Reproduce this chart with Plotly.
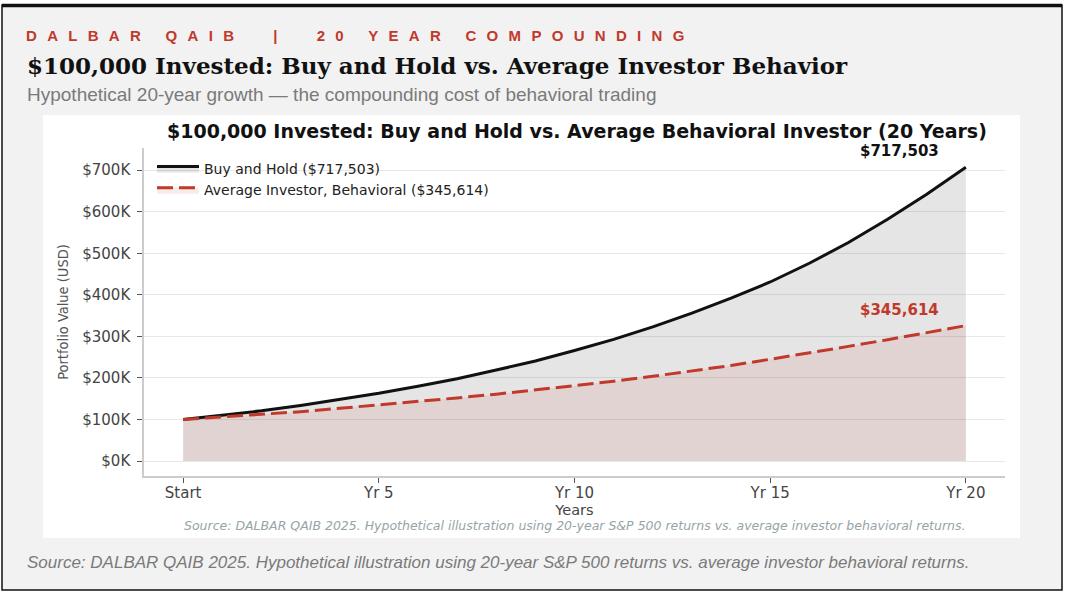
import plotly.graph_objects as go

# values (USD, one point per year)
years = list(range(0, 21))
buy_hold = [100000, 110000, 121000, 134000, 148000, 163000, 180000, 198000, 219000, 241000,
            266000, 293000, 323000, 356000, 392000, 431000, 476000, 526000, 582000, 642000, 707000]
behavioral = [100000, 106000, 113000, 119000, 127000, 135000, 143000, 152000, 161000, 171000,
              181000, 192000, 204000, 217000, 230000, 245000, 260000, 276000, 292000, 309000, 326000]

x_tickvals = [0, 5, 10, 15, 20]
x_ticktext = ["Start", "Yr 5", "Yr 10", "Yr 15", "Yr 20"]
y_tickvals = [0, 100000, 200000, 300000, 400000, 500000, 600000, 700000]
y_ticktext = ["$0K", "$100K", "$200K", "$300K", "$400K", "$500K", "$600K", "$700K"]

final_buy_hold = "$717,503"
final_behavioral = "$345,614"

RED = "#c0392b"
INK = "#111111"

W, H = 1066, 598
L, R, T, B = 144, 61, 148, 122
PW, PH = W - L - R, H - T - B


def px(x):
    return (x - L) / PW


def py(y):
    return (H - B - y) / PH


fig = go.Figure()

fig.add_trace(go.Scatter(
    x=years, y=buy_hold, mode="lines", name=f"Buy and Hold ({final_buy_hold})",
    line=dict(color=INK, width=3), fill="tozeroy", fillcolor="rgba(0,0,0,0.10)",
))
fig.add_trace(go.Scatter(
    x=years, y=behavioral, mode="lines", name=f"Average Investor, Behavioral ({final_behavioral})",
    line=dict(color=RED, width=3, dash="16px,6px"), fill="tozeroy", fillcolor="rgba(192,57,43,0.10)",
))

shapes = [
    # page card
    dict(type="rect", xref="paper", yref="paper", x0=px(2), x1=px(1062), y0=py(590), y1=py(5),
         fillcolor="#f2f2f2", line=dict(color=INK, width=1.5), layer="below"),
    dict(type="line", xref="paper", yref="paper", x0=px(2), x1=px(1062), y0=py(5.5), y1=py(5.5),
         line=dict(color=INK, width=3.5), layer="below"),
    # white chart panel
    dict(type="rect", xref="paper", yref="paper", x0=px(43), x1=px(1020), y0=py(538), y1=py(115),
         fillcolor="white", line=dict(width=0), layer="below"),
]


def note(text, x, y, anchor="left", **font):
    return dict(text=text, xref="paper", yref="paper", x=px(x), y=py(y),
                xanchor=anchor, yanchor="middle", showarrow=False, font=font)


source = ("Source: DALBAR QAIB 2025. Hypothetical illustration using 20-year S&P 500 returns "
          "vs. average investor behavioral returns.")
kicker = "DALBAR QAIB\u00a0 |\u00a0 20 YEAR COMPOUNDING"

annotations = [
    note(f"<span style='letter-spacing:10.3px'><b>{kicker}</b></span>", 24, 36,
         family="Liberation Sans, Arial", size=15, color=RED),
    note("<b>$100,000 Invested: Buy and Hold vs. Average Investor Behavior</b>", 25, 65,
         family="DejaVu Serif, Georgia, serif", size=23, color=INK),
    note("Hypothetical 20-year growth \u2014 the compounding cost of behavioral trading", 25, 95,
         family="Liberation Sans, Arial", size=19, color="#7a7a7a"),
    note("<b>$100,000 Invested: Buy and Hold vs. Average Behavioral Investor (20 Years)</b>", 577, 131, "center",
         family="DejaVu Sans", size=19, color=INK),
    note(f"<b>{final_buy_hold}</b>", 899, 151, "center", family="DejaVu Sans", size=15, color=INK),
    note(f"<b>{final_behavioral}</b>", 899, 309.5, "center", family="DejaVu Sans", size=15, color=RED),
    note(f"<i>{source}</i>", 575, 525.5, "center", family="DejaVu Sans", size=12.5, color="#95a5a6"),
    note(f"<i>{source}</i>", 25, 562, family="Liberation Sans, Arial", size=17, color="#7a7a7a"),
]

fig.update_layout(
    width=W, height=H,
    margin=dict(l=L, r=R, t=T, b=B, pad=0),
    paper_bgcolor="white",
    plot_bgcolor="rgba(0,0,0,0)",
    font=dict(family="DejaVu Sans", color="#444444"),
    shapes=shapes,
    annotations=annotations,
    showlegend=True,
    legend=dict(
        x=px(152), y=py(153), xanchor="left", yanchor="top",
        bgcolor="rgba(0,0,0,0)", font=dict(family="DejaVu Sans", size=14, color="#222222"),
        tracegroupgap=0, itemwidth=42,
    ),
    hovermode="x unified",
)

tick_font = dict(family="DejaVu Sans", size=15, color="#444444")
fig.update_xaxes(
    range=[-1, 21], tickvals=x_tickvals, ticktext=x_ticktext,
    showgrid=False, zeroline=False, showline=True, linecolor="#cccccc", linewidth=1.5,
    ticks="outside", ticklen=5, tickwidth=1.2, tickcolor="#555555", tickfont=tick_font,
    ticklabelstandoff=-3,
    title=dict(text="Years", standoff=0, font=dict(family="DejaVu Sans", size=14.5, color="#444444")),
)
fig.update_yaxes(
    range=[-35900, 753400], tickvals=y_tickvals, ticktext=y_ticktext,
    showgrid=True, gridcolor="#e8e8e8", gridwidth=1, zeroline=False,
    showline=True, linecolor="#cccccc", linewidth=1.5,
    ticks="outside", ticklen=5, tickwidth=1.2, tickcolor="#555555", tickfont=tick_font,
    ticklabelstandoff=4,
    title=dict(text="Portfolio Value (USD)", standoff=10,
               font=dict(family="DejaVu Sans Condensed, Liberation Sans Narrow, DejaVu Sans", size=14.5, color="#555555")),
)

# drop the browser's default body margin so the figure sits at the window's top-left corner
fig.write_html("out.html", config={"displayModeBar": False},
               post_script="document.body.style.margin = '0';")
